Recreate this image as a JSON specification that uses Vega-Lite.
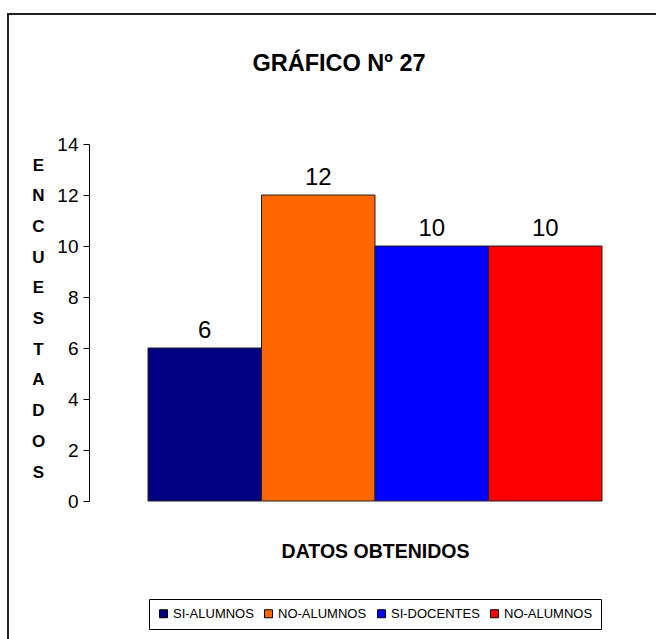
{
  "$schema": "https://vega.github.io/schema/vega-lite/v6.json",
  "autosize": "none",
  "width": 660,
  "height": 646,
  "padding": {"left": 8, "top": 14, "right": -12, "bottom": -21},
  "background": "white",
  "view": {"stroke": "#222222", "strokeWidth": 2},
  "title": {
    "text": "GRÁFICO Nº 27",
    "font": "Liberation Sans",
    "fontSize": 23.5,
    "fontWeight": "bold",
    "color": "black",
    "anchor": "middle",
    "frame": "group",
    "offset": 0,
    "baseline": "alphabetic",
    "dy": 80,
    "dx": 1
  },
  "data": {
    "values": [
      {"serie": "SI-ALUMNOS", "valor": 6},
      {"serie": "NO-ALUMNOS", "valor": 12},
      {"serie": "SI-DOCENTES", "valor": 10},
      {"serie": "NO-DOCENTES", "valor": 10}
    ]
  },
  "encoding": {
    "x": {
      "field": "serie",
      "type": "nominal",
      "sort": null,
      "scale": {"range": [140, 594], "paddingInner": 0, "paddingOuter": 0},
      "axis": {
        "title": "DATOS OBTENIDOS",
        "labels": false,
        "ticks": false,
        "domain": false,
        "titleFont": "Liberation Sans",
        "titleFontSize": 19.5,
        "titleFontWeight": "bold",
        "titleColor": "black",
        "titleBaseline": "alphabetic",
        "titleY": -103
      }
    },
    "y": {
      "field": "valor",
      "type": "quantitative",
      "scale": {"domain": [0, 14], "range": [487, 130], "nice": false, "zero": true},
      "axis": {
        "values": [0, 2, 4, 6, 8, 10, 12, 14],
        "offset": -81,
        "grid": false,
        "domainColor": "black",
        "domainWidth": 1,
        "tickColor": "black",
        "tickSize": 6,
        "labelFont": "Liberation Sans",
        "labelFontSize": 19,
        "labelColor": "black",
        "labelPadding": 5,
        "title": ["E", "N", "C", "U", "E", "S", "T", "A", "D", "O", "S"],
        "titleAngle": 0,
        "titleAlign": "center",
        "titleBaseline": "top",
        "titleFont": "Liberation Sans",
        "titleFontSize": 17,
        "titleFontWeight": "bold",
        "titleColor": "black",
        "titleLineHeight": 30.7,
        "titleX": -51,
        "titleY": 143
      }
    }
  },
  "layer": [
    {
      "mark": {"type": "bar", "stroke": "#222222", "strokeWidth": 1},
      "encoding": {
        "fill": {
          "field": "serie",
          "type": "nominal",
          "sort": null,
          "scale": {
            "domain": ["SI-ALUMNOS", "NO-ALUMNOS", "SI-DOCENTES", "NO-DOCENTES"],
            "range": ["#000080", "#FF6600", "#0000FF", "#FF0000"]
          },
          "legend": {
            "title": null,
            "orient": "none",
            "legendX": 141,
            "legendY": 585,
            "direction": "horizontal",
            "columns": 4,
            "columnPadding": 8,
            "padding": 8,
            "strokeColor": "black",
            "fillColor": "white",
            "symbolType": "square",
            "symbolSize": 64,
            "symbolStrokeColor": "black",
            "symbolStrokeWidth": 1,
            "labelOffset": 3,
            "labelFont": "Liberation Sans",
            "labelFontSize": 13,
            "labelColor": "black",
            "labelLimit": 200,
            "labelExpr": "datum.label == 'NO-DOCENTES' ? 'NO-ALUMNOS' : datum.label"
          }
        }
      }
    },
    {
      "mark": {
        "type": "text",
        "baseline": "alphabetic",
        "dy": -10,
        "font": "Liberation Sans",
        "fontSize": 24,
        "color": "black"
      },
      "encoding": {
        "text": {"field": "valor", "type": "quantitative"}
      }
    }
  ]
}
